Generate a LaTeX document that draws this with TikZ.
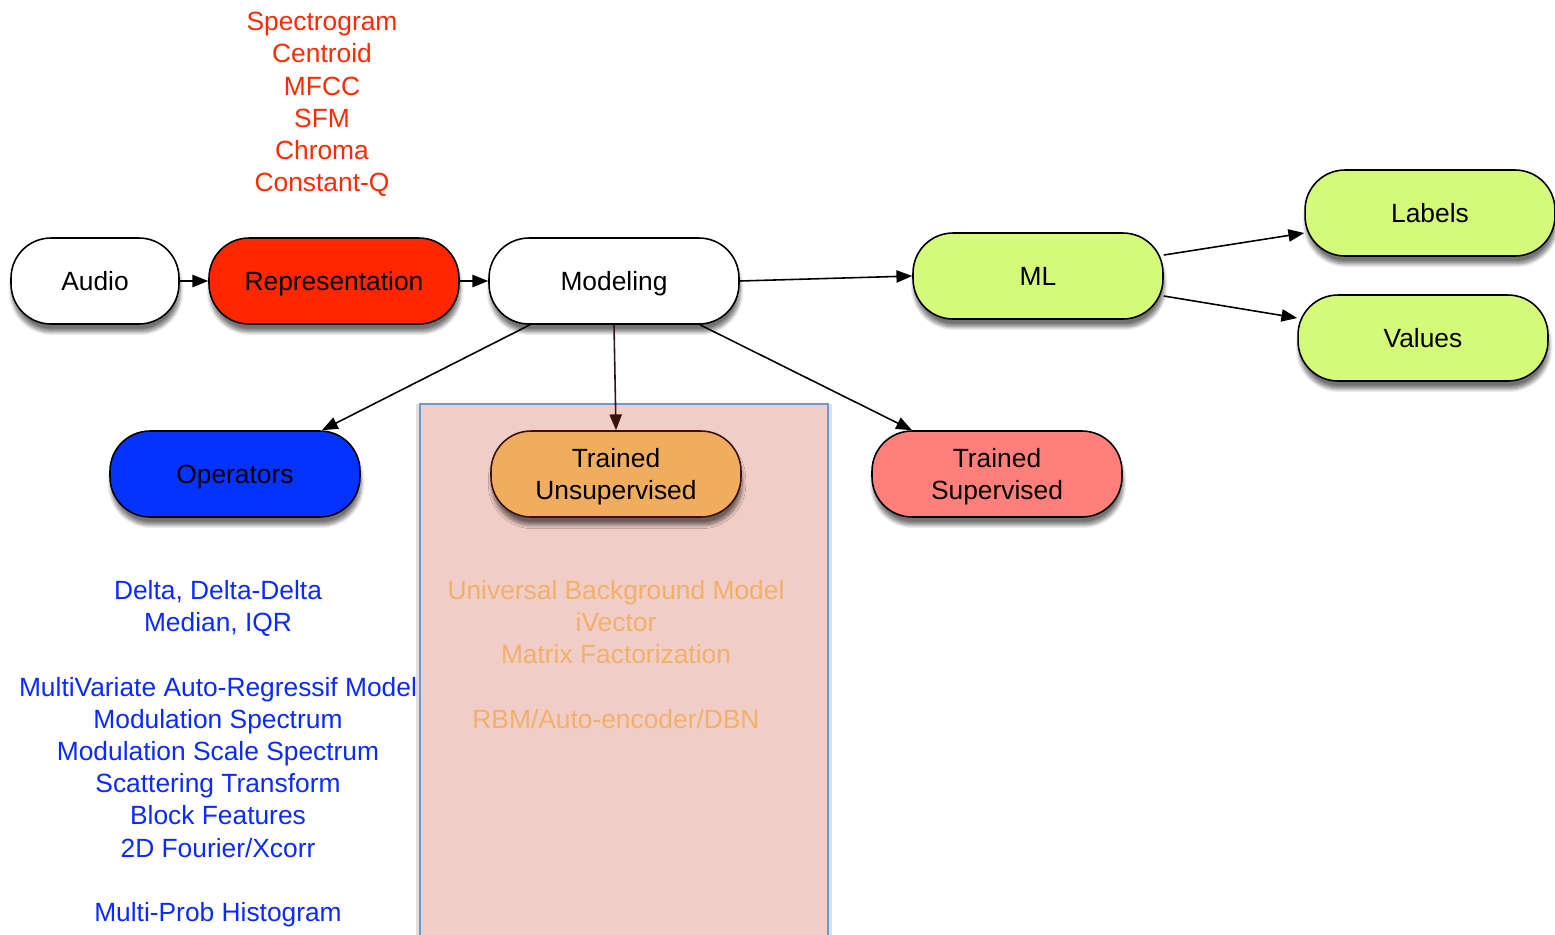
\documentclass[tikz,border=0pt]{standalone}
\usepackage{fontspec}
\setmainfont{Liberation Sans}
\usetikzlibrary{arrows.meta,shadows.blur}
\definecolor{repred}{HTML}{FF2600}
\definecolor{mlgreen}{HTML}{D5FA7A}
\definecolor{opblue}{HTML}{0433FF}
\definecolor{unsorange}{HTML}{F0AD5E}
\definecolor{supred}{HTML}{FF7F7A}
\definecolor{listred}{HTML}{FF2A00}
\definecolor{listblue}{HTML}{0A2AFF}
\definecolor{listorange}{HTML}{F2B06A}
\definecolor{boxpink}{HTML}{F0CDC7}
\definecolor{boxblue}{HTML}{6C9BD2}
\definecolor{darkbrown}{HTML}{3A1010}
\tikzset{
  pill/.style={draw=black, line width=0.9pt, rounded corners=0.8cm,
    minimum width=5cm, minimum height=1.72cm,
    font=\fontsize{15}{18.33}\selectfont, inner sep=0pt,
    blur shadow={shadow xshift=0.6pt, shadow yshift=-4.5pt, shadow blur steps=8, shadow opacity=55}},
  oneline/.style={text height=10.74pt, text depth=0pt},
  twoline/.style={text height=10.74pt, text depth=18.33pt},
  arr/.style={line width=0.9pt, -{Triangle[length=9pt,width=7pt]}},
  listtext/.style={align=center, font=\fontsize{15}{18.33}\selectfont, inner sep=0pt, anchor=north}
}
\newcommand{\twolines}[2]{\begin{tabular}[t]{@{}c@{}}#1\\#2\end{tabular}}
\begin{document}
\begin{tikzpicture}[x=0.02cm,y=-0.02cm]
\useasboundingbox (0,0) rectangle (1555,934);
% pink box
\fill[black, opacity=0.12] (416,404) rectangle (832,960);
\filldraw[fill=boxpink, draw=boxblue, line width=1.1pt] (420,404) rectangle (828,960);

\node[pill, oneline, fill=white, minimum width=3.36cm] (audio) at (95,281) {Audio};
\node[pill, oneline, fill=repred] (rep) at (334,281) {Representation};
\node[pill, oneline, fill=white] (mod) at (614,281) {Modeling};
\node[pill, oneline, fill=mlgreen] (ml) at (1038,276) {ML};
\node[pill, oneline, fill=mlgreen] (lab) at (1430,213) {Labels};
\node[pill, oneline, fill=mlgreen] (val) at (1423,338) {Values};
\node[pill, oneline, fill=opblue] (op) at (235,474) {Operators};
\node[pill, twoline, fill=unsorange, draw=darkbrown] (uns) at (616,474) {\twolines{Trained}{Unsupervised}};
\node[pill, twoline, fill=supred] (sup) at (997,474) {\twolines{Trained}{Supervised}};

\draw[arr] (audio) -- (rep);
\draw[arr] (rep) -- (mod);
\draw[arr] (mod.east) -- (ml.west);
\draw[arr] ([yshift=0.42cm]ml.east) -- ([yshift=-0.4cm]lab.west);
\draw[arr] ([yshift=-0.4cm]ml.east) -- ([yshift=0.4cm]val.west);
\draw[arr] ([xshift=-1.68cm]mod.south) -- ([xshift=1.74cm]op.north);
\draw[arr, draw=darkbrown] (mod.south) -- (uns.north);
\draw[arr] ([xshift=1.72cm]mod.south) -- ([xshift=-1.7cm]sup.north);

\node[listtext, text=listred] (feat) at (322,12) {Spectrogram\\Centroid\\MFCC\\SFM\\Chroma\\Constant-Q};
\node[listtext, text=listblue] (ops) at (218,580) {Delta, Delta-Delta\\Median, IQR\\[18.33pt]MultiVariate Auto-Regressif Model\\Modulation Spectrum\\Modulation Scale Spectrum\\Scattering Transform\\Block Features\\2D Fourier/Xcorr\\[18.33pt]Multi-Prob Histogram};
\node[listtext, text=listorange] (unsl) at (616,580) {Universal Background Model\\iVector\\Matrix Factorization\\[18.33pt]RBM/Auto-encoder/DBN};
\end{tikzpicture}
\end{document}
